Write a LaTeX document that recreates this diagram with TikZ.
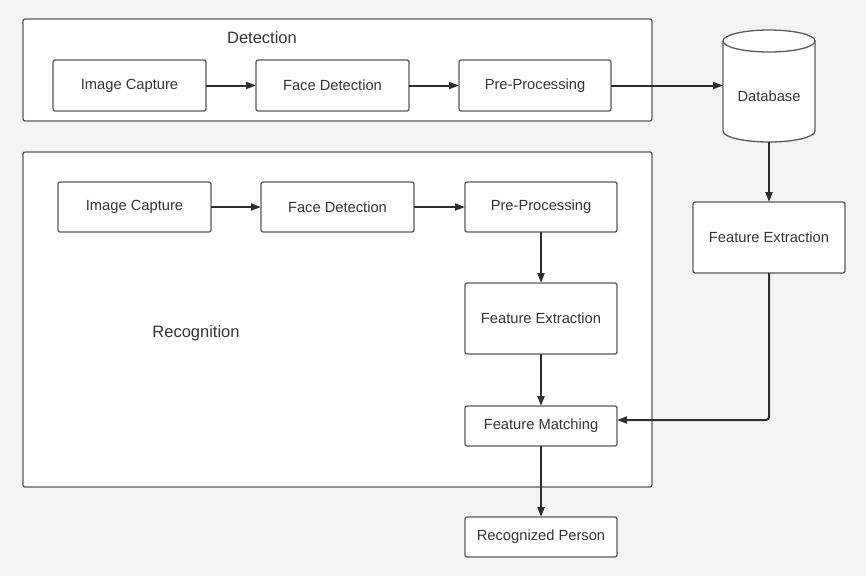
\documentclass[tikz,border=0pt]{standalone}
\usepackage{fontspec}
\setmainfont{Liberation Sans}
\usetikzlibrary{arrows.meta}
\definecolor{bg}{HTML}{F4F4F4}
\definecolor{bord}{HTML}{5A5A5A}
\definecolor{arr}{HTML}{2E2E2E}
\definecolor{txt}{HTML}{353535}
\begin{document}
\begin{tikzpicture}[x=1pt,y=-1pt,
  box/.style={draw=bord, line width=1.3pt, fill=white, rounded corners=2pt, inner sep=0pt, outer sep=0pt,
    text=txt, font=\fontsize{14.7}{17}\selectfont},
  grp/.style={draw=bord, line width=1.3pt, fill=white, rounded corners=2pt, inner sep=0pt, outer sep=0pt},
  lbl/.style={text=txt, font=\fontsize{16.5}{19}\selectfont, inner sep=0pt},
  conn/.style={draw=arr, line width=2pt, -{Triangle[length=10pt,width=7pt]}, rounded corners=3pt}]
\useasboundingbox[fill=bg] (0,0) rectangle (866,576);
% groups
\node[grp, minimum width=629pt, minimum height=102pt] (gdet) at (337.5,70) {};
\node[grp, minimum width=629pt, minimum height=335pt] (grec) at (337.5,319.5) {};
\node[lbl] (ldet) at (262,38) {Detection};
\node[lbl] (lrec) at (196,333) {Recognition};
% detection row
\node[box, minimum width=153pt, minimum height=51pt] (ic1) at (129.5,85.5) {Image Capture};
\node[box, minimum width=153pt, minimum height=51pt] (fd1) at (332.5,85.5) {Face Detection};
\node[box, minimum width=152pt, minimum height=51pt] (pp1) at (535,85.5) {Pre-Processing};
% database
\draw[draw=bord, line width=1.3pt, fill=white]
  (723,41) -- (723,131) arc[start angle=180, end angle=360, x radius=46pt, y radius=11pt]
  -- (815,41) arc[start angle=0, end angle=180, x radius=46pt, y radius=11pt] -- cycle;
\draw[draw=bord, line width=1.3pt]
  (723,41) arc[start angle=180, end angle=360, x radius=46pt, y radius=11pt];
\node[lbl, font=\fontsize{14.7}{17}\selectfont] (db) at (769,96) {Database};
\coordinate (dbin) at (723,85.5);
\coordinate (dbout) at (769,142);
% recognition
\node[box, minimum width=153pt, minimum height=50pt] (ic2) at (134.5,207) {Image Capture};
\node[box, minimum width=153pt, minimum height=50pt] (fd2) at (337.5,207) {Face Detection};
\node[box, minimum width=152pt, minimum height=50pt] (pp2) at (541,207) {Pre-Processing};
\node[box, minimum width=152pt, minimum height=71pt] (fe2) at (541,318.5) {Feature Extraction};
\node[box, minimum width=152pt, minimum height=40pt] (fm) at (541,426) {Feature Matching};
\node[box, minimum width=152pt, minimum height=40pt] (rp) at (541,537) {Recognized Person};
\node[box, minimum width=152pt, minimum height=71pt] (fe1) at (769,237.5) {Feature Extraction};
\coordinate (fmin) at (617,420);
% connectors
\draw[conn] (ic1) -- (fd1);
\draw[conn] (fd1) -- (pp1);
\draw[conn] (pp1) -- (dbin);
\draw[conn] (dbout) -- (fe1);
\draw[conn] (ic2) -- (fd2);
\draw[conn] (fd2) -- (pp2);
\draw[conn] (pp2) -- (fe2);
\draw[conn] (fe2) -- (fm);
\draw[conn] (fm) -- (rp);
\draw[conn] (fe1.south) |- (fmin);
\end{tikzpicture}
\end{document}
